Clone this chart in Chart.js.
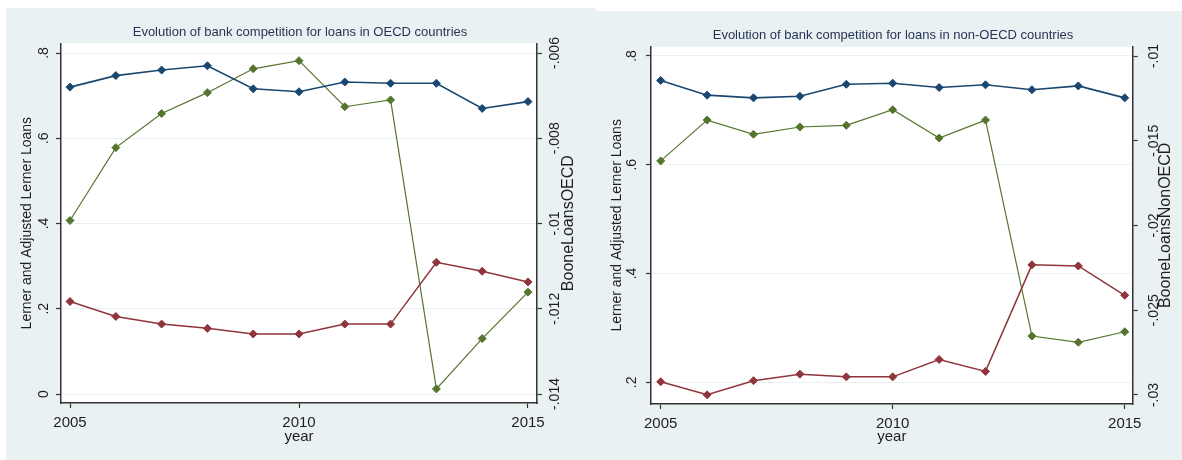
<!DOCTYPE html>
<html lang="en">
<head>
<meta charset="utf-8">
<script src="https://cdn.jsdelivr.net/npm/chart.js@4.4.0/dist/chart.umd.min.js"></script>
<style>
  body { margin: 0; background: #fff; }
  #wrap { position: relative; width: 1182px; height: 460px; overflow: hidden; }
  .bg { position: absolute; background: #eaf1f3; }
  canvas { position: absolute; }
</style>
</head>
<body>
<div id="wrap">
  <div class="bg" style="left:6px; top:8px; width:590px; height:452px;"></div>
  <div class="bg" style="left:596px; top:11px; width:586px; height:449px;"></div>
  <canvas id="oecd" width="584" height="452" style="left:8px; top:8px;"></canvas>
  <canvas id="nonoecd" width="578" height="452" style="left:604px; top:8px;"></canvas>
</div>
<script>
// years on the x axis
const years = [2005, 2006, 2007, 2008, 2009, 2010, 2011, 2012, 2013, 2014, 2015];
const xTicks = [2005, 2010, 2015];

// OECD countries
const lernerOECD    = [0.720, 0.747, 0.760, 0.770, 0.716, 0.709, 0.732, 0.729, 0.729, 0.670, 0.686];
const adjLernerOECD = [0.217, 0.182, 0.164, 0.154, 0.141, 0.141, 0.164, 0.164, 0.309, 0.288, 0.263];
const booneOECD     = [-0.00993, -0.00822, -0.00742, -0.00693, -0.00637, -0.00618, -0.00726, -0.00710, -0.01388, -0.01270, -0.01161];
const leftTicksOECD  = [0, 0.2, 0.4, 0.6, 0.8];
const rightTicksOECD = [-0.014, -0.012, -0.01, -0.008, -0.006];

// non-OECD countries
const lernerNonOECD    = [0.755, 0.728, 0.723, 0.726, 0.748, 0.750, 0.742, 0.747, 0.738, 0.745, 0.723];
const adjLernerNonOECD = [0.201, 0.177, 0.203, 0.215, 0.210, 0.210, 0.242, 0.220, 0.416, 0.414, 0.360];
const booneNonOECD     = [-0.01619, -0.01378, -0.01462, -0.01419, -0.01409, -0.01317, -0.01484, -0.01378, -0.02652, -0.02689, -0.02627];
const leftTicksNonOECD  = [0.2, 0.4, 0.6, 0.8];
const rightTicksNonOECD = [-0.03, -0.025, -0.02, -0.015, -0.01];

const FONT = '"Liberation Sans", Arial, sans-serif';
const NAVY = '#1a476f', MAROON = '#90353b', GREEN = '#55752f';
const AXIS = '#333333', INK = '#1e1e1e', GRID = '#eaf1f3';

// stata style: ".8" instead of "0.8", "-.006" instead of "-0.006"
function stataNum(v) {
  return String(+v.toFixed(4)).replace(/^(-?)0\./, '$1.');
}

function series(label, values, color, width, axis) {
  return {
    label: label,
    data: years.map((yr, i) => ({ x: yr, y: values[i] })),
    yAxisID: axis,
    borderColor: color,
    backgroundColor: color,
    borderWidth: width,
    pointStyle: 'rectRot',
    pointRadius: 4,
    pointBorderWidth: 1,
    pointBorderColor: color,
    pointBackgroundColor: color,
    tension: 0
  };
}

// white plot region on the bluish graph region
const plotBg = {
  id: 'plotBg',
  beforeDraw(chart) {
    const { ctx, chartArea: a } = chart;
    ctx.save();
    ctx.fillStyle = '#ffffff';
    ctx.fillRect(a.left, a.top, a.width, a.height);
    ctx.restore();
  }
};

// right axis title reads bottom-to-top like the left one
const rightTitle = {
  id: 'rightTitle',
  afterDraw(chart, args, opts) {
    const s = chart.scales.y2;
    const ctx = chart.ctx;
    ctx.save();
    ctx.translate(s.left + opts.offset, (s.top + s.bottom) / 2);
    ctx.rotate(-Math.PI / 2);
    ctx.font = '16px ' + FONT;
    ctx.fillStyle = INK;
    ctx.textAlign = 'center';
    ctx.textBaseline = 'middle';
    ctx.fillText(s.options.title.text, 0, 0);
    ctx.restore();
  }
};

function panel(id, p) {
  return new Chart(document.getElementById(id), {
    type: 'line',
    data: {
      datasets: [
        series('Lerner Loans', p.lerner, NAVY, 1.6, 'y'),
        series('Adjusted Lerner Loans', p.adjLerner, MAROON, 1.5, 'y'),
        series(p.booneName, p.boone, GREEN, 1.2, 'y2')
      ]
    },
    options: {
      responsive: false,
      animation: false,
      devicePixelRatio: 1,
      layout: { padding: 0 },
      plugins: {
        legend: { display: false },
        tooltip: { enabled: false },
        title: {
          display: true,
          text: p.title,
          color: '#283456',
          font: { family: FONT, size: 13, weight: 'normal' },
          padding: p.titlePad
        },
        rightTitle: { offset: p.rightTitleOffset }
      },
      scales: {
        x: {
          type: 'linear',
          min: p.xMin,
          max: p.xMax,
          afterBuildTicks: s => { s.ticks = xTicks.map(v => ({ value: v })); },
          afterFit: s => { s.height = p.xHeight; },
          ticks: { color: INK, font: { family: FONT, size: 15 }, padding: p.xTickPad, maxRotation: 0, callback: v => String(v) },
          grid: { drawOnChartArea: false, tickLength: 5, tickColor: AXIS, tickWidth: 1.2 },
          border: { color: AXIS, width: 1.5 },
          title: { display: true, text: 'year', color: INK, font: { family: FONT, size: 15 }, padding: { top: 0, bottom: p.xTitlePad } }
        },
        y: {
          position: 'left',
          min: p.yMin,
          max: p.yMax,
          afterBuildTicks: s => { s.ticks = p.leftTicks.map(v => ({ value: v })); },
          afterFit: s => { s.width = p.leftWidth; },
          ticks: { color: INK, font: { family: FONT, size: 14 }, minRotation: 90, maxRotation: 90, crossAlign: 'center', padding: p.leftTickPad, callback: stataNum },
          grid: { color: GRID, lineWidth: 1, tickLength: 5, tickColor: AXIS, tickWidth: 1.2 },
          border: { color: AXIS, width: 1.5 },
          title: { display: true, text: 'Lerner and Adjusted Lerner Loans', color: INK, font: { family: FONT, size: 14 }, padding: { top: p.leftTitlePad, bottom: 0 } }
        },
        y2: {
          position: 'right',
          min: p.y2Min,
          max: p.y2Max,
          afterBuildTicks: s => { s.ticks = p.rightTicks.map(v => ({ value: v })); },
          afterFit: s => { s.width = p.rightWidth; },
          ticks: { color: INK, font: { family: FONT, size: 14 }, minRotation: 90, maxRotation: 90, crossAlign: 'center', padding: p.rightTickPad, callback: stataNum },
          grid: { drawOnChartArea: false, tickLength: 5, tickColor: AXIS, tickWidth: 1.2 },
          border: { color: AXIS, width: 1.5 },
          title: { display: false, text: p.booneName }
        }
      }
    },
    plugins: [plotBg, rightTitle]
  });
}

panel('oecd', {
  title: 'Evolution of bank competition for loans in OECD countries',
  booneName: 'BooneLoansOECD',
  lerner: lernerOECD, adjLerner: adjLernerOECD, boone: booneOECD,
  leftTicks: leftTicksOECD, rightTicks: rightTicksOECD,
  xMin: 2004.803, xMax: 2015.197,
  yMin: -0.0211, yMax: 0.8228,
  y2Min: -0.014211, y2Max: -0.005772,
  titlePad: { top: 17, bottom: 2.7 },
  xHeight: 57, xTickPad: 6, xTitlePad: 14.3,
  leftWidth: 53, leftTickPad: 6.2, leftTitlePad: 11.1,
  rightWidth: 55, rightTickPad: -3, rightTitleOffset: 32
});

panel('nonoecd', {
  title: 'Evolution of bank competition for loans in non-OECD countries',
  booneName: 'BooneLoansNonOECD',
  lerner: lernerNonOECD, adjLerner: adjLernerNonOECD, boone: booneNonOECD,
  leftTicks: leftTicksNonOECD, rightTicks: rightTicksNonOECD,
  xMin: 2004.791, xMax: 2015.172,
  yMin: 0.1601, yMax: 0.8171,
  y2Min: -0.030531, y2Max: -0.009451,
  titlePad: { top: 19.5, bottom: 3.6 },
  xHeight: 56, xTickPad: 5.7, xTitlePad: 14,
  leftWidth: 47, leftTickPad: 7.9, leftTitlePad: 5.1,
  rightWidth: 49.3, rightTickPad: 0.6, rightTitleOffset: 33
});
</script>
</body>
</html>
